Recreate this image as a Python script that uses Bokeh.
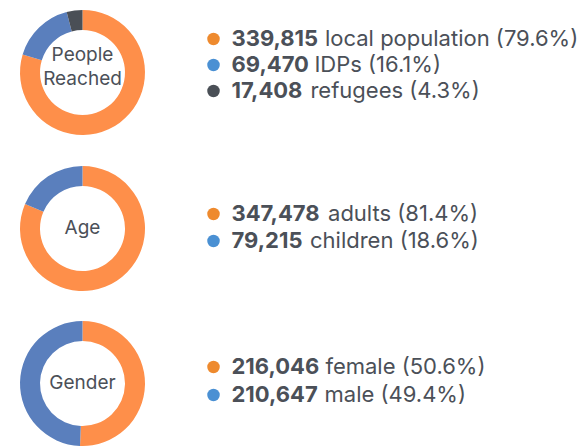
import numpy as np
from bokeh.plotting import figure
from bokeh.models import Range1d
from bokeh.core.properties import value
from bokeh.embed import file_html
from bokeh.resources import INLINE

# ---- data ----
people_labels = ["local population", "IDPs", "refugees"]
people_values = [339815, 69470, 17408]
people_pcts = ["79.6%", "16.1%", "4.3%"]

age_labels = ["adults", "children"]
age_values = [347478, 79215]
age_pcts = ["81.4%", "18.6%"]

gender_labels = ["female", "male"]
gender_values = [216046, 210647]
gender_pcts = ["50.6%", "49.4%"]

titles = [["People", "Reached"], ["Age"], ["Gender"]]

# ---- style ----
ring_colors = ["#FE8F4A", "#5A7FBD", "#4A4F56"]
dot_colors = ["#EE8A2E", "#4A90D3", "#4A4F56"]
text_color = "#4B5058"
FONT = "Inter"

W, H = 579, 446
p = figure(width=W, height=H, output_backend="svg", toolbar_location=None,
           x_range=Range1d(0, W), y_range=Range1d(0, H), min_border=0)
p.axis.visible = False
p.grid.visible = False
p.outline_line_color = None
p.background_fill_color = "white"
p.border_fill_color = "white"


def py(y):
    # picture y (downwards) -> data y
    return H - y


def base(y, size):
    # empirical correction: glyph baseline renders below the anchor
    return py(y - 0.40 * size)


# approximate advance widths (em) of Inter Bold for number strings
BOLD_W = {"1": 0.46, "7": 0.60, "4": 0.66, ",": 0.27}


def bold_width(s, size):
    return sum(BOLD_W.get(c, 0.64) for c in s) * size


groups = [
    (titles[0], people_labels, people_values, people_pcts, 72, [46, 72, 98]),
    (titles[1], age_labels, age_values, age_pcts, 228, [221, 248]),
    (titles[2], gender_labels, gender_values, gender_pcts, 383, [374, 402]),
]

R_OUT, R_IN = 62.5, 42.5
FS = 22
CS = 19
for title, labels, vals, pcts, cy, rows in groups:
    v = np.array(vals, dtype=float)
    frac = v / v.sum()
    cum = np.concatenate([[0.0], np.cumsum(frac)])
    start = np.pi / 2 - 2 * np.pi * cum[:-1]
    end = np.pi / 2 - 2 * np.pi * cum[1:]
    n = len(vals)
    p.annular_wedge(x=[82] * n, y=[py(cy)] * n, inner_radius=R_IN, outer_radius=R_OUT,
                    start_angle=list(start), end_angle=list(end), direction="clock",
                    fill_color=ring_colors[:n], line_color=None)
    # centre label
    if len(title) == 2:
        ys = [base(cy - 10, CS), base(cy + 14, CS)]
    else:
        ys = [base(cy + 7, CS)]
    p.text(x=[82] * len(title), y=ys, text=title, text_align="center",
           text_baseline="alphabetic", text_font=value(FONT), text_font_size=f"{CS}px",
           text_color=text_color)
    # legend rows
    nums = [f"{x:,}" for x in vals]
    rest = [f"{l} ({pc})" for l, pc in zip(labels, pcts)]
    p.scatter(x=[213] * n, y=[py(b - 7.5) for b in rows], size=12.5,
              marker="circle", fill_color=dot_colors[:n], line_color=None)
    p.text(x=[231] * n, y=[base(b, FS) for b in rows], text=nums, text_font=value(FONT),
           text_font_size=f"{FS}px", text_font_style="bold", text_baseline="alphabetic",
           text_color=text_color)
    p.text(x=[231 + bold_width(s, FS) + 7 for s in nums], y=[base(b, FS) for b in rows],
           text=rest, text_font=value(FONT), text_font_size=f"{FS}px",
           text_baseline="alphabetic", text_color=text_color)

open("out.html", "w").write(file_html(p, INLINE))
